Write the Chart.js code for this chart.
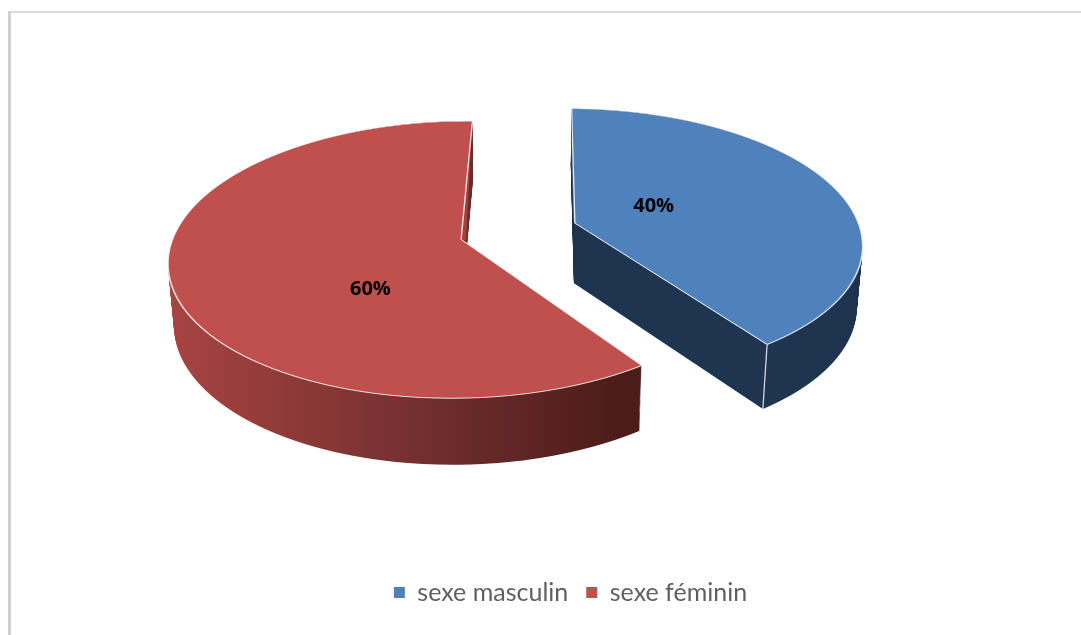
<!DOCTYPE html>
<html>
<head>
<meta charset="utf-8">
<title>sexe</title>
<script src="https://cdn.jsdelivr.net/npm/chart.js@4/dist/chart.umd.js"></script>
<style>
  html, body { margin: 0; background: #fff; overflow: hidden; }
  #frame { position: absolute; left: 8px; top: 11px; right: -5px; bottom: -5px;
           border-top: 2px solid #d9d9d9; border-left: 3px solid #cfcfcf; }
  #chart { position: absolute; left: 0; top: 0; }
</style>
</head>
<body>
<div id="frame"></div>
<canvas id="chart" width="1081" height="635"></canvas>
<script>
const categories = ['sexe masculin', 'sexe féminin'];
const shares = [40, 60];

const topColors = ['#4f81bd', '#c0504d'];
const wallColors = ['#1f3550', '#8a3a37'];
const sliverColors = ['#3a5270', '#a33f3c'];

// label spot relative to the slice's own centre, in radius units
const labelSpots = [[0.287, -0.13], [-0.288, 0.352]];

// Chart.js pies are flat, so the arcs get redrawn row by row through a perspective camera
const cam = {
  cx: 518.5, cy: 231.2, sx: 286, ky: 133.2, p: 0.145,
  explode: 0.208, shrink: 0.017,
  depth: 60, depthGrow: 0.037, depthRef: 222
};
const WALL_LAYERS = 64;

function planeOffset(arc) {
  const mid = (arc.startAngle + arc.endAngle) / 2;
  return [Math.cos(mid) * cam.explode, Math.sin(mid) * cam.explode];
}

function project(u, v, t) {
  const z = 1 - cam.p * v;
  const x0 = cam.cx + cam.sx * u / z;
  const y0 = cam.cy + cam.ky * v / z;
  return [
    cam.cx + (x0 - cam.cx) * (1 - cam.shrink * t),
    y0 + t * (cam.depth + cam.depthGrow * (y0 - cam.depthRef))
  ];
}

function drawArcRows(ctx, arc, t, opts, fromY, toY, dxAt) {
  const R = arc.outerRadius;
  const [ou, ov] = planeOffset(arc);
  const ghost = Object.create(arc);
  ghost.options = Object.assign({}, arc.options, opts);
  ghost.x = arc.x + ou * R;
  ghost.y = arc.y + ov * R;

  const grow = 1 + cam.depthGrow * t;
  for (let y = fromY; y < toY; y++) {
    const row = y + 0.5;
    const y0 = (row - t * (cam.depth - cam.depthGrow * cam.depthRef)) / grow;
    const w = (y0 - cam.cy) / cam.ky;
    const k = 1 + cam.p * w;
    if (k <= 0) continue;
    const v = w / k;
    if (Math.abs(v - ov) > 1.01) continue;

    const a = cam.sx * k / R * (1 - cam.shrink * t);
    const d = cam.ky * k * k / R * grow;
    const e = cam.cx - arc.x * a + (dxAt ? dxAt(y) : 0);
    const f = row - (arc.y + v * R) * d;

    ctx.save();
    ctx.beginPath();
    ctx.rect(0, y, ctx.canvas.width, 1);
    ctx.clip();
    ctx.setTransform(a, 0, 0, d, e, f);
    ghost.draw(ctx);
    ctx.restore();
  }
}

const sliceExtras = [
  { from: 138, to: 221, dx: () => -1.6 },
  { from: 121, to: 240, dx: y => 5 * (y - 121) / 119 }
];

const tiltedPie = {
  id: 'tiltedPie',
  beforeDatasetsDraw(chart) {
    const ctx = chart.ctx;
    const arcs = chart.getDatasetMeta(0).data;
    const W = ctx.canvas.width;

    // red first, its wall gets shaded while nothing else is in that part of the canvas
    [1, 0].forEach(i => {
      const arc = arcs[i];
      for (let n = WALL_LAYERS; n >= 0; n--) {
        drawArcRows(ctx, arc, n / WALL_LAYERS, { backgroundColor: wallColors[i], borderWidth: 0 }, 100, 480);
      }
      if (i === 1) {
        const g = ctx.createLinearGradient(168, 0, 641, 0);
        g.addColorStop(0, '#a84442');
        g.addColorStop(0.5, '#763030');
        g.addColorStop(0.95, '#4c1c1a');
        g.addColorStop(1, '#4c1c1a');
        ctx.save();
        ctx.globalCompositeOperation = 'source-atop';
        ctx.fillStyle = g;
        ctx.fillRect(0, 100, W, 400);
        ctx.restore();
      }
      const extra = sliceExtras[i];
      drawArcRows(ctx, arc, 0, { backgroundColor: sliverColors[i], borderWidth: 0 }, extra.from, extra.to, extra.dx);
      drawArcRows(ctx, arc, 0, {
        backgroundColor: topColors[i],
        borderColor: 'rgba(255,255,255,0.85)',
        borderWidth: 1.4
      }, 100, 420);
    });

    // seam on the corner of the blue slice
    const blue = arcs[0];
    const [bu, bv] = planeOffset(blue);
    const u = bu + Math.cos(blue.endAngle);
    const v = bv + Math.sin(blue.endAngle);
    const p0 = project(u, v, 0);
    const p1 = project(u, v, 1);
    ctx.save();
    ctx.strokeStyle = 'rgba(255,255,255,0.8)';
    ctx.lineWidth = 1.3;
    ctx.beginPath();
    ctx.moveTo(p0[0], p0[1]);
    ctx.lineTo(p1[0], p1[1]);
    ctx.stroke();

    // percent labels
    ctx.fillStyle = '#000';
    ctx.font = 'bold 20px "Open Sans", sans-serif';
    ctx.textAlign = 'center';
    ctx.textBaseline = 'middle';
    arcs.forEach((arc, i) => {
      const [ou, ov] = planeOffset(arc);
      const pos = project(ou + labelSpots[i][0], ov + labelSpots[i][1], 0);
      ctx.fillText(shares[i] + '%', pos[0], pos[1]);
    });
    ctx.restore();
    return false;
  }
};

new Chart(document.getElementById('chart'), {
  type: 'pie',
  data: {
    labels: categories,
    datasets: [{
      data: shares,
      backgroundColor: topColors,
      borderWidth: 0
    }]
  },
  options: {
    responsive: false,
    animation: false,
    events: [],
    rotation: 0.9,
    layout: { padding: { left: 60, bottom: 20 } },
    plugins: {
      tooltip: { enabled: false },
      legend: {
        position: 'bottom',
        labels: {
          boxWidth: 11,
          boxHeight: 11,
          padding: 18,
          color: '#5f5f5f',
          font: { family: 'Lato', size: 25 }
        }
      }
    }
  },
  plugins: [tiltedPie]
});
</script>
</body>
</html>
